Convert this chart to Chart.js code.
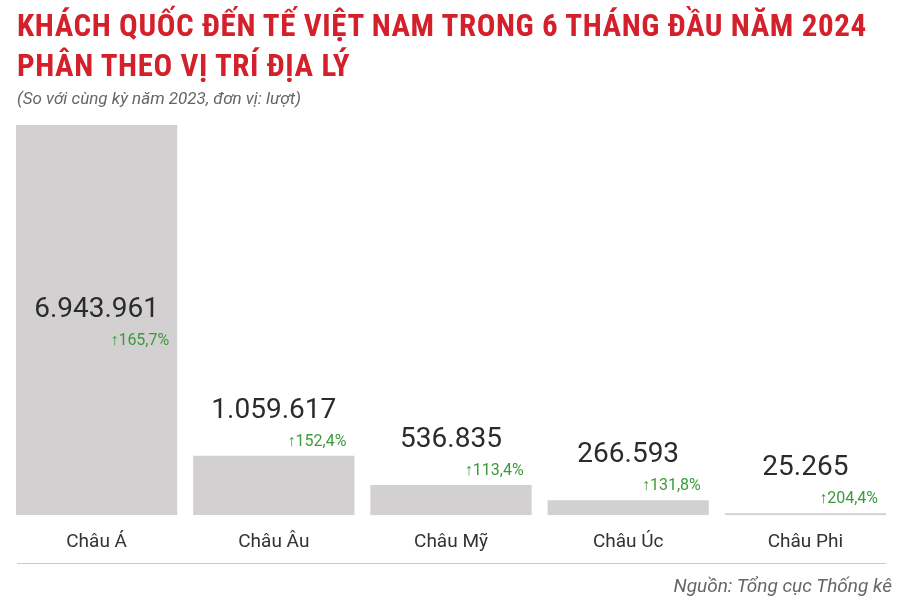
<!DOCTYPE html>
<html><head><meta charset="utf-8">
<script src="https://cdn.jsdelivr.net/npm/chart.js@4/dist/chart.umd.min.js"></script>
<style>
body{margin:0;background:#fff;width:900px;height:604px;position:relative;overflow:hidden;font-family:Roboto,sans-serif}
#t{position:absolute;left:17px;top:6px;color:#d3202b;font:bold 31px/40px "Liberation Sans Narrow","Roboto Condensed",Roboto,sans-serif;letter-spacing:0.6px}
#s{position:absolute;left:17px;top:88px;color:#666;font:italic 17px Roboto,sans-serif}
#src{position:absolute;right:8px;top:574px;color:#666;font:italic 19px Roboto,sans-serif}
#line{position:absolute;left:17px;right:14px;top:563px;border-top:1px solid #ccc}
#c{position:absolute;left:0;top:0}
</style></head><body>
<canvas id="c" width="900" height="604"></canvas>
<div id="t">KHÁCH QUỐC ĐẾN TẾ VIỆT NAM TRONG 6 THÁNG ĐẦU NĂM 2024<br>PHÂN THEO VỊ TRÍ ĐỊA LÝ</div>
<div id="s">(So với cùng kỳ năm 2023, đơn vị: lượt)</div>
<div id="line"></div>
<div id="src">Nguồn: Tổng cục Thống kê</div>
<script>
const categories = ['Châu Á', 'Châu Âu', 'Châu Mỹ', 'Châu Úc', 'Châu Phi'];
const visitors = [6943961, 1059617, 536835, 266593, 25265];
const valueLabels = ['6.943.961', '1.059.617', '536.835', '266.593', '25.265'];
const growthLabels = ['165,7%', '152,4%', '113,4%', '131,8%', '204,4%'];

const labelPlugin = {
    id: 'labels',
    afterDatasetsDraw(chart) {
        const ctx = chart.ctx;
        chart.getDatasetMeta(0).data.forEach((bar, i) => {
            const y = Math.max(bar.y, 355) - 45;
            const right = bar.x + bar.width / 2;
            ctx.save();
            ctx.fillStyle = '#2b2b2b';
            ctx.font = '28px Roboto';
            ctx.textAlign = 'center';
            ctx.textBaseline = 'middle';
            ctx.fillText(valueLabels[i], bar.x, y);
            ctx.fillStyle = '#3b9b3b';
            ctx.font = '16px Roboto';
            ctx.textAlign = 'right';
            ctx.fillText('↑' + growthLabels[i], right - 8, y + 31);
            ctx.restore();
        });
    }
};

new Chart(document.getElementById('c'), {
    type: 'bar',
    data: {
        labels: categories,
        datasets: [{
            data: visitors,
            backgroundColor: '#d2d0d1',
            borderColor: '#c4c2c3',
            borderWidth: {top: 0, left: 0, right: 0, bottom: 1},
            barPercentage: 0.91,
            categoryPercentage: 1,
            minBarLength: 2
        }]
    },
    options: {
        responsive: false,
        animation: false,
        layout: {padding: {top: 125, left: 8, right: 6, bottom: 42}},
        plugins: {legend: {display: false}, tooltip: {enabled: false}},
        scales: {
            x: {
                grid: {display: false},
                border: {display: false},
                ticks: {color: '#333', font: {size: 19, family: 'Roboto'}, padding: 8}
            },
            y: {display: false, min: 0, max: 6943961}
        }
    },
    plugins: [labelPlugin]
});
</script>
</body></html>
